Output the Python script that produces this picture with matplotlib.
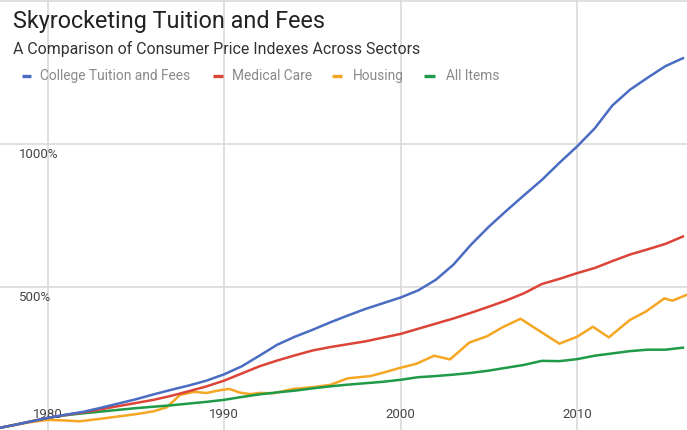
import matplotlib.pyplot as plt
from matplotlib.lines import Line2D
from matplotlib.transforms import blended_transform_factory

plt.rcParams['font.family'] = ['Roboto', 'DejaVu Sans']

# cumulative percent change in each consumer price index
years = list(range(1977, 2017))
tuition = [7, 19, 32, 45, 56, 66, 80, 95, 110, 127, 143, 158, 175, 197, 225, 262, 300, 328,
           352, 378, 402, 425, 445, 465, 490, 527, 580, 650, 712, 768, 822, 875, 935, 992,
           1055, 1135, 1190, 1232, 1272, 1300]
medical = [7, 19, 32, 45, 55, 64, 75, 86, 97, 108, 122, 138, 155, 175, 200, 225, 245, 263,
           280, 292, 302, 312, 325, 338, 356, 374, 392, 412, 433, 455, 480, 512, 530, 550,
           568, 592, 615, 633, 652, 678]
all_items = [7, 19, 32, 45, 54, 61, 67, 73, 79, 84, 89, 95, 101, 108, 118, 127, 134, 140,
             148, 155, 161, 166, 171, 178, 187, 191, 196, 202, 210, 220, 230, 244, 243, 250,
             262, 270, 278, 283, 283, 290]

housing_years = [1977, 1978, 1979, 1980, 1981, 1981.8, 1983, 1984, 1985, 1986, 1986.75,
                 1987.5, 1988.3, 1989, 1989.8, 1990.3, 1990.9, 1991.5, 1992, 1992.8, 1993.9,
                 1995, 1996, 1997, 1998.3, 1999.2, 2000, 2000.9, 2001.9, 2002.8, 2003.9,
                 2004.9, 2005.8, 2006.8, 2007.7, 2009, 2010, 2010.9, 2011.8, 2013, 2013.9,
                 2014.95, 2015.4, 2016.2]
housing = [7, 19, 30, 38, 36, 33, 42, 50, 58, 68, 82, 125, 136, 132, 142, 146, 133, 128, 132,
           131, 146, 152, 160, 183, 191, 206, 220, 234, 262, 249, 308, 330, 362, 391, 355,
           304, 328, 363, 326, 387, 416, 462, 454, 474]

names = ['College Tuition and Fees', 'Medical Care', 'Housing', 'All Items']
colors = ['#4a6cc2', '#db4437', '#f5a623', '#1e9a48']

x_ticks = [1980, 1990, 2000, 2010]
y_ticks = [500, 1000, 1500]

W, H = 687, 430
fig = plt.figure(figsize=(W / 100, H / 100), dpi=100)
ax = fig.add_axes([0, 0, 1, 1])
ax.set_xlim(1977.3, 2016.23)
ax.set_ylim(2.8, 1503)

for x in x_ticks:
    ax.axvline(x, color='#dadada', lw=1.2, zorder=0)
for y in y_ticks:
    ax.axhline(y, color='#dadada', lw=1.2, zorder=0)

ax.plot(housing_years, housing, color=colors[2], lw=1.8, solid_joinstyle='round', zorder=2)
ax.plot(years, all_items, color=colors[3], lw=1.8, solid_joinstyle='round', zorder=2)
ax.plot(years, medical, color=colors[1], lw=1.8, solid_joinstyle='round', zorder=3)
ax.plot(years, tuition, color=colors[0], lw=1.8, solid_joinstyle='round', zorder=4)

for spine in ax.spines.values():
    spine.set_visible(False)
ax.set_xticks([])
ax.set_yticks([])

# axis labels sit inside the plot area
trans_y = blended_transform_factory(ax.transAxes, ax.transData)
for y in y_ticks[:2]:
    ax.text(19 / W, y - 35, f'{y}%', transform=trans_y, ha='left', va='center',
            fontsize=9.5, color='#444444')
trans_x = blended_transform_factory(ax.transData, ax.transAxes)
for x in x_ticks:
    ax.text(x, 1 - 414 / H, str(x), transform=trans_x, ha='center', va='center',
            fontsize=9.5, color='#444444')

fig.text(13 / W, 1 - 28 / H, 'Skyrocketing Tuition and Fees', ha='left', va='baseline',
         fontsize=16.8, color='#222222')
fig.text(13 / W, 1 - 54 / H, 'A Comparison of Consumer Price Indexes Across Sectors',
         ha='left', va='baseline', fontsize=11.4, color='#333333')

# legend row
legend_pos = [(22, 31, 40), (213, 223, 232), (332, 342, 353), (424, 435, 446)]
ly = 1 - 76 / H
for (x0, x1, xt), name, c in zip(legend_pos, names, colors):
    fig.add_artist(Line2D([x0 / W, x1 / W], [ly, ly], color=c, lw=2.4,
                          solid_capstyle='butt', transform=fig.transFigure))
    fig.text(xt / W, ly, name, ha='left', va='center', fontsize=9.9, color='#8a8a8a')

fig.savefig('out.png', dpi=100, facecolor='white')
